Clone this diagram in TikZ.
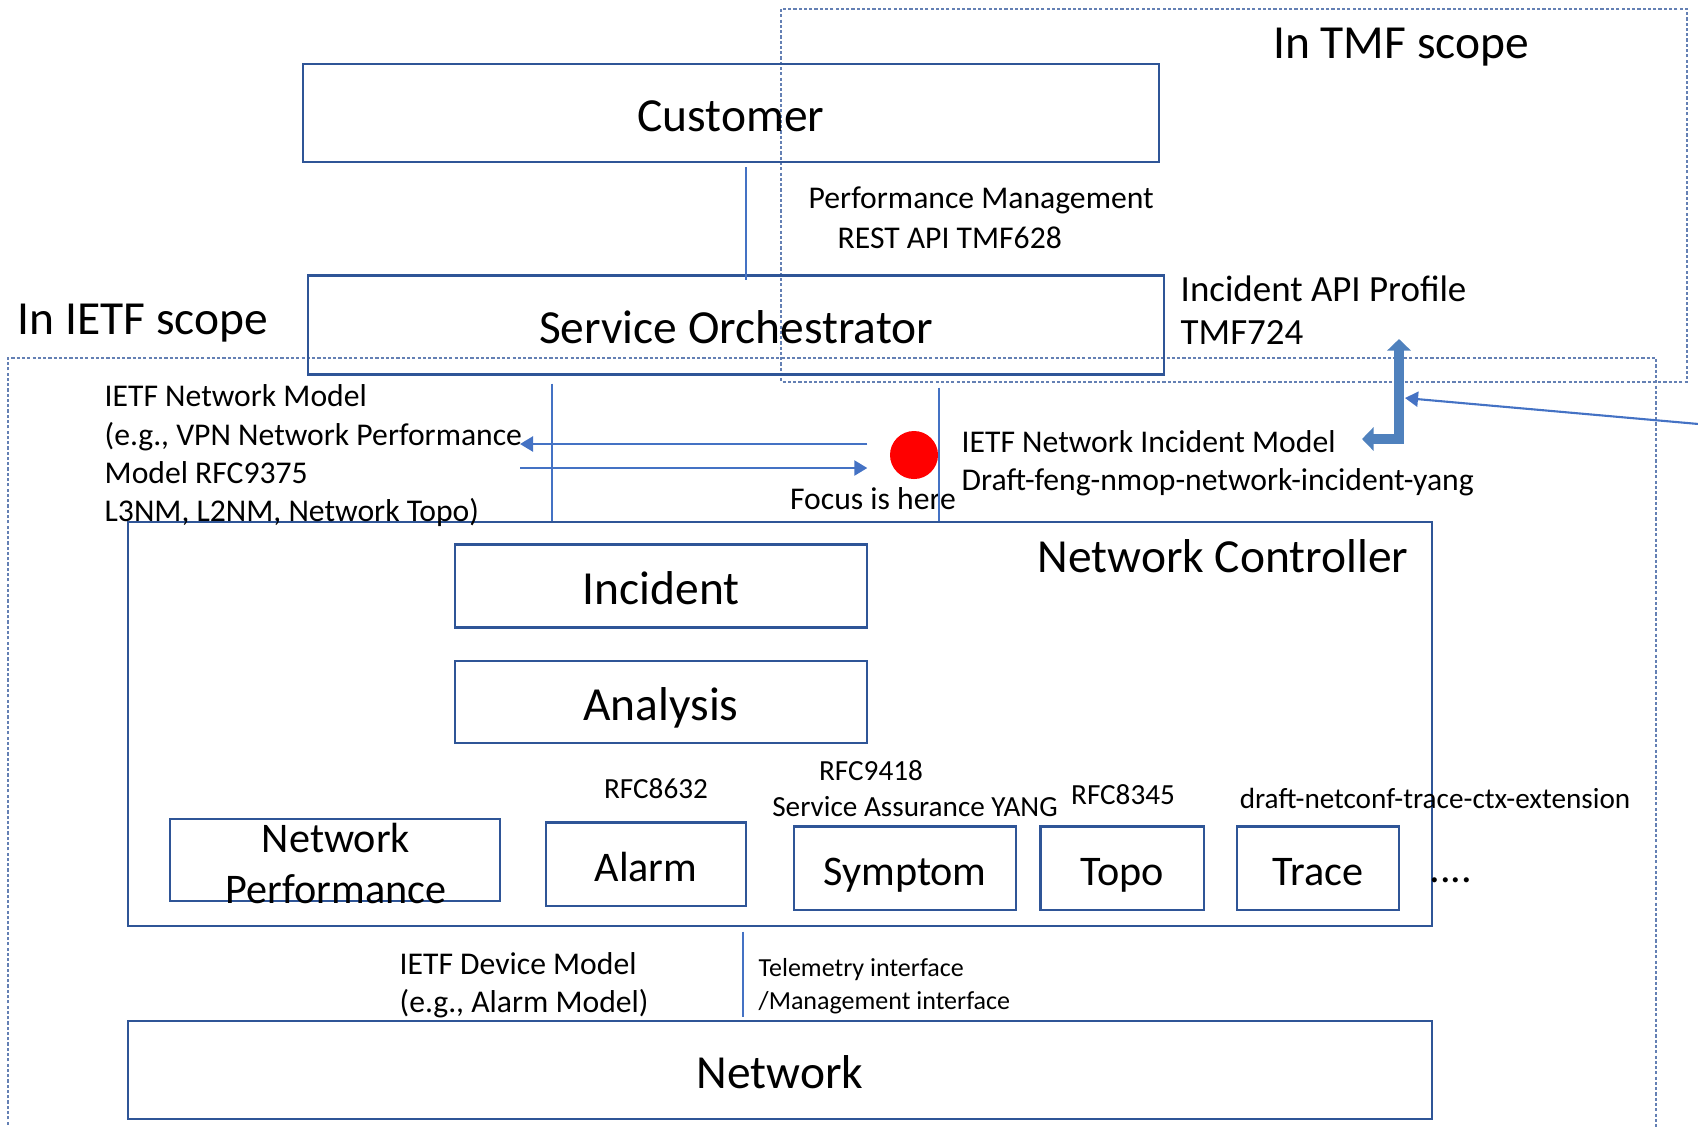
\documentclass[tikz,border=0pt]{standalone}
\usepackage{fontspec}
\setmainfont{Carlito}
\usetikzlibrary{arrows.meta,calc}
\definecolor{boxblue}{RGB}{47,85,151}
\definecolor{lineblue}{RGB}{68,114,196}
\definecolor{arrowblue}{RGB}{79,129,189}
\definecolor{scopeblue}{RGB}{100,128,180}

\begin{document}
\begin{tikzpicture}[x=0.01cm, y=-0.01cm,
    box/.style={draw=boxblue, line width=0.6pt, inner sep=0pt, text height=10.5pt, text depth=0pt},
    rowbox/.style={box, text height=9.8pt, minimum height=0.83cm},
    big/.style={font=\fontsize{13.5}{16}\selectfont},
    mid/.style={font=\fontsize{12}{14.5}\selectfont},
    note/.style={font=\fontsize{9}{10.9}\selectfont, align=left, inner sep=0pt},
    small/.style={font=\fontsize{8.3}{10}\selectfont, inner sep=0pt},
    wire/.style={draw=lineblue, line width=0.6pt},
    flow/.style={wire, -{Triangle[length=3.7pt,width=4.3pt]}},
    bigarrow/.style={draw=arrowblue, line width=3.1pt,
        {Triangle[length=3.3pt,width=6.6pt]}-{Triangle[length=3.3pt,width=6.6pt]}},
    scopeline/.style={draw=scopeblue, line width=0.4pt, dash pattern=on 0.9pt off 0.6pt}]
    \useasboundingbox (0,0) rectangle (1698,1126);

    % scope areas
    \draw[scopeline] (781,9) rectangle (1687,382);
    \draw[scopeline] (8,1130) |- (1656,358) -- (1656,1130);
    \node[big] (tmf) at (1401,47) {In TMF scope};
    \node[big] (ietf) at (143,323) {In IETF scope};

    % upper layers
    \node[box, big, minimum width=8.56cm, minimum height=0.98cm] (cust) at (731,113) {Customer};
    \node[box, big, minimum width=8.55cm, minimum height=0.99cm] (orch) at (736,325) {Service Orchestrator};
    \node[note, anchor=west] (perfmgmt) at (808,200) {Performance Management};
    \node[note, anchor=west] (restapi) at (837,238) {REST API TMF628};
    \node[note, font=\fontsize{10.5}{12.3}\selectfont, anchor=west] (incapi) at (1180,310)
        {Incident API Profile\\TMF724};

    % controller
    \node[box, minimum width=13.03cm, minimum height=4.03cm] (nc) at (780,724) {};
    \node[big] (nctitle) at (1223,556) {Network Controller};
    \node[box, big, minimum width=4.11cm, minimum height=0.83cm] (incident) at (661,586) {Incident};
    \node[box, big, minimum width=4.11cm, minimum height=0.82cm] (analysis) at (661,702) {Analysis};
    \node[box, minimum width=3.29cm, minimum height=0.82cm] (netperf) at (335,860) {};
    \node[mid, align=center] at (336,863) {Network\\Performance};
    \foreach \nm/\cx/\cy/\w/\txt in {alarm/646/864/2.00/Alarm, symptom/905/868/2.22/Symptom,
        topo/1122/868/1.63/Topo, trace/1318/868/1.62/Trace}
        \node[rowbox, mid, minimum width=\w cm] (\nm) at (\cx,\cy) {\txt};
    \node[mid, anchor=base] (more) at (1451,882) {....};
    \node[small] (rfcalarm) at (656,789) {RFC8632};
    \node[small] (rfcsa) at (871,771) {RFC9418};
    \node[small] (sayang) at (915,807) {Service Assurance YANG};
    \node[small] (rfctopo) at (1123,795) {RFC8345};
    \node[small] (drafttrace) at (1435,798) {draft-netconf-trace-ctx-extension};

    % network
    \node[box, big, minimum width=13.03cm, minimum height=0.98cm] (net) at (780,1070) {Network};
    \node[note, anchor=west] (devmodel) at (399,985) {IETF Device Model\\(e.g., Alarm Model)};
    \node[note, font=\fontsize{7.4}{9.4}\selectfont, anchor=west] (telemetry) at (758,986)
        {Telemetry interface\\/Management interface};

    % northbound models
    \node[note, anchor=west] (netmodel) at (104,456)
        {IETF Network Model\\(e.g., VPN Network Performance\\Model RFC9375\\L3NM, L2NM, Network Topo)};
    \node[note, anchor=west] (incmodel) at (961,463)
        {IETF Network Incident Model\\Draft-feng-nmop-network-incident-yang};
    \node[circle, fill=red, minimum size=0.48cm, inner sep=0pt] (focus) at (914,455) {};
    \node[note] (focustxt) at (873,499) {Focus is here};

    % connectors
    \draw[wire] ($(cust.south)+(15,4)$) -- ($(orch.north)+(10,6)$);
    \draw[wire] (orch.south -| 552,0) ++(0,8) -- (nc.north -| 552,0);
    \draw[wire] (orch.south -| 939,0) ++(0,12) -- (nc.north -| 939,0);
    \draw[wire] (nc.south -| 743,0) ++(0,5) -- ($(net.north -| 743,0)+(0,-3)$);
    \coordinate (modelin) at (520,444);
    \coordinate (modelout) at (520,468);
    \draw[flow] ($(focus.west)+(-22,-11)$) -- (modelin);
    \draw[flow] (modelout) -- ($(focus.west)+(-22,13)$);
    \coordinate (apitip) at (1362,439);
    \coordinate (apitop) at (1399,339);
    \draw[bigarrow] (apitip) -| (apitop);
    \coordinate (outside) at (1710,425);
    \draw[flow] (outside) -- (1405,398);
\end{tikzpicture}
\end{document}
